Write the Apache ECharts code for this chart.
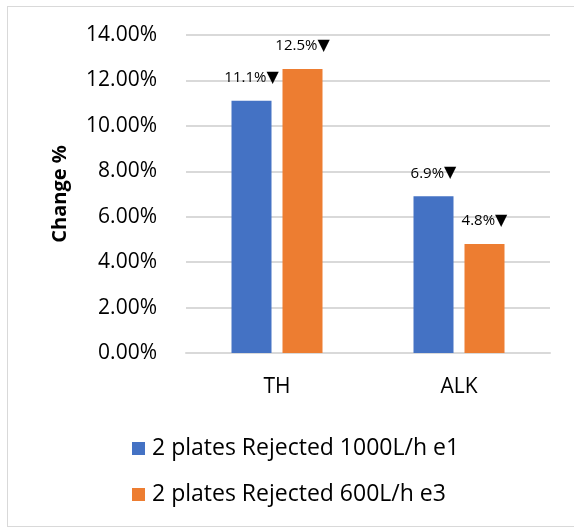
<!DOCTYPE html>
<html>
<head>
<meta charset="utf-8">
<script src="https://cdn.jsdelivr.net/npm/echarts@6/dist/echarts.min.js"></script>
<style>
  html, body { margin: 0; padding: 0; background: #fff; }
  #frame { position: absolute; left: 7px; top: 6px; width: 580px; height: 521px; border: 1px solid #d9d9d9; box-sizing: border-box; }
  #chart { position: absolute; left: 0; top: 0; width: 574px; height: 529px; }
</style>
</head>
<body>
<div id="frame"></div>
<div id="chart"></div>
<script>
// Parameters measured per plate setup (percent change)
const categories = ['TH', 'ALK'];
const seriesNames = ['2 plates Rejected 1000L/h e1', '2 plates Rejected 600L/h e3'];
const rejected1000 = [11.1, 6.9];
const rejected600 = [12.5, 4.8];
const yTicks = [0, 2, 4, 6, 8, 10, 12, 14];

const FONT = '"Open Sans", "Liberation Sans", sans-serif';
const colors = ['#4472C4', '#ED7D31'];

const chart = echarts.init(document.getElementById('chart'), null, { renderer: 'canvas' });

const barLabel = {
  show: true,
  position: 'top',
  distance: 15,
  color: '#000',
  fontFamily: FONT,
  fontSize: 15,
  formatter: p => p.value.toFixed(1) + '%{tri|\u25BC}',
  rich: {
    tri: { fontFamily: '"DejaVu Sans", sans-serif', fontSize: 16, color: '#000' }
  }
};

chart.setOption({
  animation: false,
  color: colors,
  grid: { left: 186, right: 24, top: 35, bottom: 176, containLabel: false },
  legend: {
    orient: 'vertical',
    left: 127,
    top: 432,
    itemWidth: 13,
    itemHeight: 13,
    itemGap: 23,
    icon: 'rect',
    textStyle: { fontFamily: FONT, fontSize: 23, color: '#000', padding: [0, 0, 0, 2] },
    data: seriesNames
  },
  xAxis: {
    type: 'category',
    data: categories,
    axisLine: { show: true, lineStyle: { color: '#d9d9d9', width: 2 } },
    axisTick: { show: false },
    axisLabel: { margin: 24, color: '#000', fontFamily: FONT, fontSize: 21 }
  },
  yAxis: {
    type: 'value',
    min: yTicks[0],
    max: yTicks[yTicks.length - 1],
    interval: 2,
    name: 'Change %',
    nameLocation: 'middle',
    nameGap: 116,
    nameRotate: 90,
    nameTextStyle: { fontFamily: FONT, fontSize: 20, fontWeight: 'bold', color: '#000' },
    axisLine: { show: false },
    axisTick: { show: false },
    splitLine: { lineStyle: { color: '#d9d9d9', width: 2 } },
    axisLabel: { margin: 29, color: '#000', fontFamily: FONT, fontSize: 21, formatter: v => v.toFixed(2) + '%' }
  },
  series: [
    { name: seriesNames[0], type: 'bar', data: rejected1000, barWidth: 40, barGap: '27.5%', label: barLabel },
    { name: seriesNames[1], type: 'bar', data: rejected600, barWidth: 40, barGap: '27.5%', label: barLabel }
  ]
});
</script>
</body>
</html>
